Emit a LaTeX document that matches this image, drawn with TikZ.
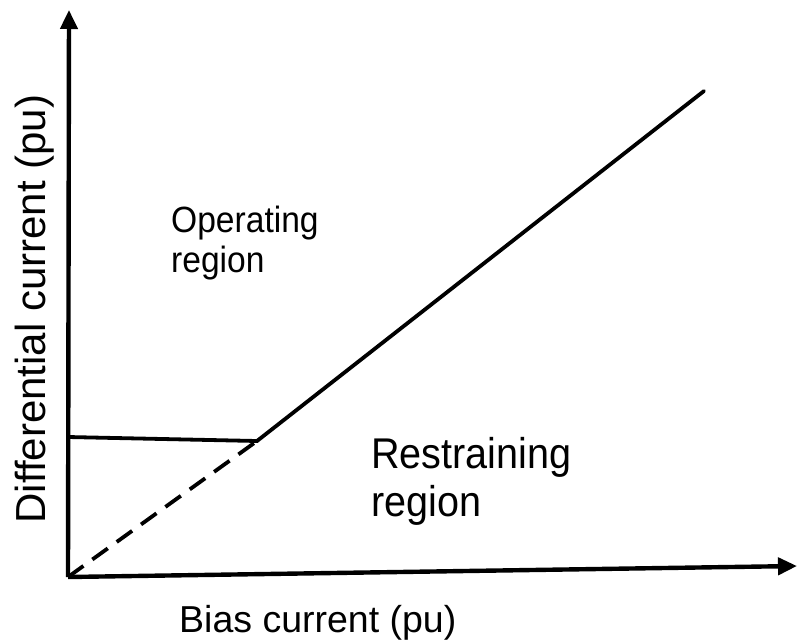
\documentclass[tikz,border=0pt]{standalone}
\usepackage{fontspec}
\setmainfont{Liberation Sans}
\newfontfamily\regionfont[FakeStretch=0.92]{Liberation Sans}
\usetikzlibrary{arrows.meta}
\begin{document}
\begin{tikzpicture}[x=1pt,y=-1pt,
  axis/.style={line width=4.4pt, -{Triangle[length=19pt,width=17pt]}},
  curve/.style={line width=3.8pt, line cap=round},
  dashcurve/.style={line width=3.8pt, dash pattern=on 19pt off 11pt},
  lbl/.style={inner sep=0pt, align=left}]
\useasboundingbox (0,0) rectangle (797,643);
\coordinate (O) at (68,577);
\coordinate (ytop) at (69,10);
\coordinate (xend) at (797,566);
\coordinate (hstart) at (68,437);
\coordinate (knee) at (257,441);
\coordinate (top) at (704,91);
\draw[axis] (O) -- (ytop);
\draw[axis] (O) -- (xend);
\draw[curve] (hstart) -- (knee) -- (top);
\draw[dashcurve] (O) -- (knee);
\node[lbl, anchor=north west, font=\regionfont\fontsize{36.5}{40}\selectfont] (op) at (171,206) {Operating\\region};
\node[lbl, anchor=north west, font=\regionfont\fontsize{43}{48}\selectfont] (re) at (371,437) {Restraining\\region};
\node[lbl, anchor=base west, font=\fontsize{37.5}{44}\selectfont] (bias) at (179,632) {Bias current (pu)};
\node[lbl, anchor=base, rotate=90, font=\fontsize{42}{48}\selectfont] (diff) at (45,309) {Differential current (pu)};
\end{tikzpicture}
\end{document}
